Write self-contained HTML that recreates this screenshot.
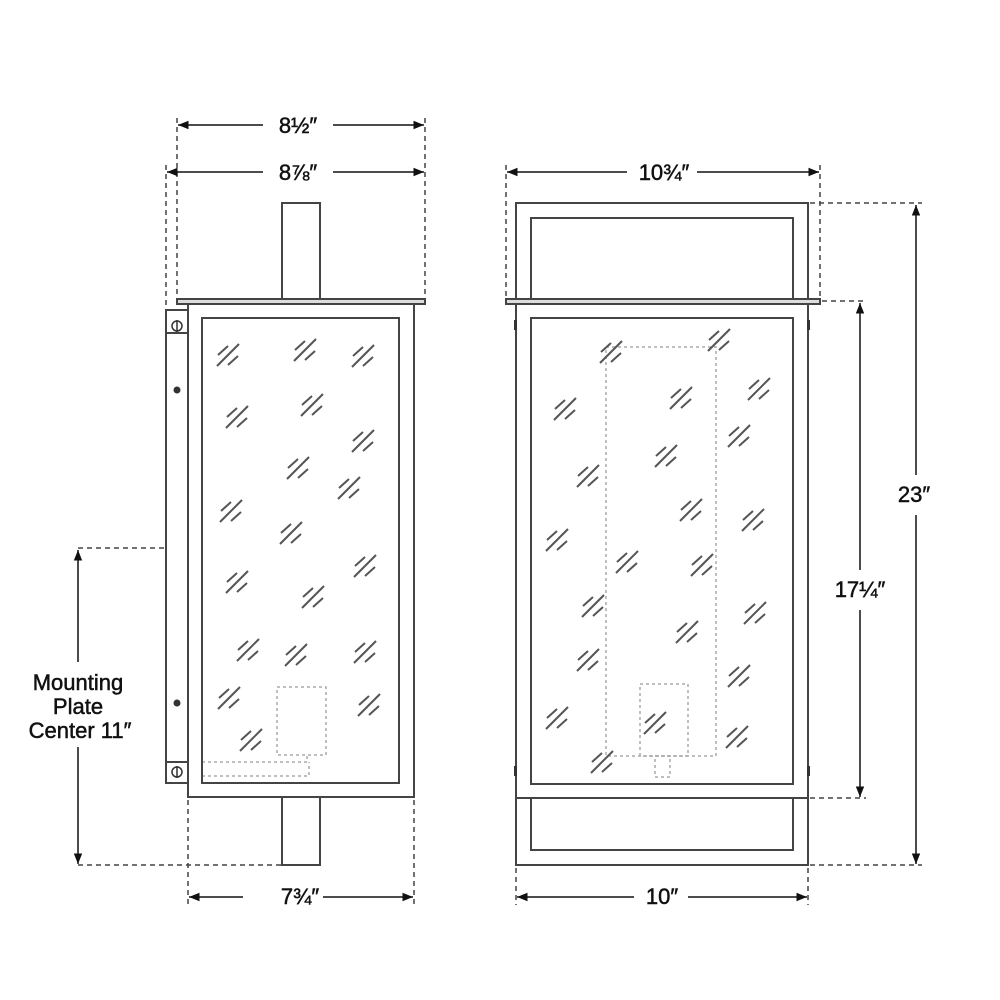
<!DOCTYPE html>
<html><head><meta charset="utf-8"><style>
html,body{margin:0;padding:0;background:#fff;}
svg{display:block}
text{font-family:"Liberation Sans",sans-serif;fill:#111;stroke:#111;stroke-width:0.5;}
</style></head><body>
<svg width="1000" height="1000" viewBox="0 0 1000 1000" xmlns="http://www.w3.org/2000/svg">
<defs>
<g id="h" stroke="#555" stroke-width="2" fill="none">
<line x1="-11" y1="0" x2="-1" y2="-9"/>
<line x1="-12" y1="11" x2="10" y2="-11"/>
<line x1="-1" y1="10" x2="9" y2="1"/>
</g>
<marker id="a" viewBox="0 0 10 10" refX="10" refY="5" markerWidth="7" markerHeight="7" orient="auto-start-reverse"><path d="M0,1 L10,5 L0,9z" fill="#111"/></marker>
</defs>
<g fill="none" stroke="#444" stroke-width="1.5" stroke-dasharray="5,4">
<line x1="177" y1="118" x2="177" y2="300"/>
<line x1="425" y1="118" x2="425" y2="300"/>
<line x1="166" y1="165" x2="166" y2="310"/>
<line x1="188" y1="800" x2="188" y2="905"/>
<line x1="414" y1="800" x2="414" y2="905"/>
<line x1="78" y1="548" x2="165" y2="548"/>
<line x1="78" y1="865" x2="282" y2="865"/>
<line x1="506" y1="165" x2="506" y2="300"/>
<line x1="820" y1="165" x2="820" y2="300"/>
<line x1="516" y1="868" x2="516" y2="905"/>
<line x1="808" y1="868" x2="808" y2="905"/>
<line x1="810" y1="203" x2="922" y2="203"/>
<line x1="822" y1="301" x2="866" y2="301"/>
<line x1="810" y1="798" x2="866" y2="798"/>
<line x1="810" y1="865" x2="922" y2="865"/>
</g>
<g fill="none" stroke="#aaa" stroke-width="1.5" stroke-dasharray="3,3">
<rect x="277" y="687" width="49" height="68"/>
<polyline points="202,762 307,762 307,755"/>
<polyline points="202,776 309,776 309,762"/>
<rect x="606" y="347" width="110" height="409"/>
<rect x="640" y="684" width="48" height="72"/>
<rect x="655" y="756" width="15" height="21"/>
</g>
<g fill="none" stroke="#111" stroke-width="1.5" marker-start="url(#a)" marker-end="url(#a)">
<line x1="178" y1="125" x2="424" y2="125"/>
<line x1="167" y1="172" x2="424" y2="172"/>
<line x1="189" y1="897" x2="413" y2="897"/>
<line x1="78" y1="550" x2="78" y2="864"/>
<line x1="507" y1="172" x2="819" y2="172"/>
<line x1="517" y1="897" x2="807" y2="897"/>
<line x1="916" y1="205" x2="916" y2="864"/>
<line x1="860" y1="303" x2="860" y2="797"/>
</g>
<g fill="#fff" stroke="none">
<rect x="263" y="110" width="70" height="30"/>
<rect x="263" y="157" width="70" height="30"/>
<rect x="243" y="882" width="80" height="30"/>
<rect x="30" y="662" width="100" height="85"/>
<rect x="627" y="157" width="70" height="30"/>
<rect x="634" y="882" width="54" height="30"/>
<rect x="888" y="475" width="50" height="40"/>
<rect x="825" y="570" width="70" height="40"/>
</g>
<g font-size="22" text-anchor="middle">
<text x="298" y="133">8½″</text>
<text x="298" y="180">8⅞″</text>
<text x="300" y="904">7¾″</text>
<text x="664" y="180">10¾″</text>
<text x="662" y="904">10″</text>
<text x="914" y="502">23″</text>
<text x="860" y="597">17¼″</text>
<text x="78" y="690">Mounting</text>
<text x="78" y="714">Plate</text>
<text x="80" y="738">Center 11″</text>
</g>
<g fill="none" stroke="#444" stroke-width="2">
<rect x="282" y="203" width="38" height="97"/>
<rect x="177" y="299" width="248" height="5" fill="#ddd"/>
<rect x="188" y="304" width="226" height="493"/>
<rect x="202" y="318" width="197" height="465"/>
<rect x="166" y="310" width="22" height="473"/>
<line x1="166" y1="333" x2="188" y2="333"/>
<line x1="166" y1="762" x2="188" y2="762"/>
<rect x="282" y="797" width="38" height="68"/>
<rect x="516" y="203" width="292" height="662"/>
<rect x="531" y="218" width="262" height="82"/>
<rect x="506" y="299" width="314" height="5" fill="#ddd"/>
<rect x="531" y="318" width="262" height="466"/>
<line x1="516" y1="798" x2="808" y2="798"/>
<rect x="531" y="798" width="262" height="52"/>
</g>
<g stroke="#333" stroke-width="1.5" fill="none">
<circle cx="177" cy="326" r="5"/><line x1="177" y1="320" x2="177" y2="332"/>
<circle cx="177" cy="772" r="5"/><line x1="177" y1="766" x2="177" y2="778"/>
</g>
<circle cx="177" cy="390" r="3.5" fill="#333"/>
<circle cx="177" cy="703" r="3.5" fill="#333"/>
<g fill="#333"><rect x="514" y="320" width="3" height="10"/><rect x="807" y="320" width="3" height="10"/><rect x="514" y="766" width="3" height="10"/><rect x="807" y="766" width="3" height="10"/></g>
<g>
<use href="#h" x="229" y="355"/><use href="#h" x="306" y="350"/><use href="#h" x="364" y="356"/>
<use href="#h" x="238" y="417"/><use href="#h" x="313" y="405"/><use href="#h" x="364" y="441"/>
<use href="#h" x="299" y="468"/><use href="#h" x="350" y="488"/><use href="#h" x="232" y="511"/>
<use href="#h" x="292" y="533"/><use href="#h" x="366" y="566"/><use href="#h" x="238" y="582"/>
<use href="#h" x="314" y="597"/><use href="#h" x="249" y="650"/><use href="#h" x="297" y="655"/>
<use href="#h" x="366" y="652"/><use href="#h" x="230" y="698"/><use href="#h" x="370" y="705"/>
<use href="#h" x="252" y="740"/>
<use href="#h" x="612" y="352"/><use href="#h" x="720" y="340"/><use href="#h" x="566" y="409"/>
<use href="#h" x="682" y="398"/><use href="#h" x="760" y="389"/><use href="#h" x="589" y="476"/>
<use href="#h" x="667" y="456"/><use href="#h" x="740" y="436"/><use href="#h" x="558" y="540"/>
<use href="#h" x="692" y="510"/><use href="#h" x="754" y="520"/><use href="#h" x="628" y="562"/>
<use href="#h" x="703" y="565"/><use href="#h" x="594" y="606"/><use href="#h" x="688" y="632"/>
<use href="#h" x="756" y="613"/><use href="#h" x="589" y="660"/><use href="#h" x="740" y="676"/>
<use href="#h" x="558" y="718"/><use href="#h" x="656" y="723"/><use href="#h" x="738" y="737"/>
<use href="#h" x="603" y="762"/>
</g>
</svg>
</body></html>
